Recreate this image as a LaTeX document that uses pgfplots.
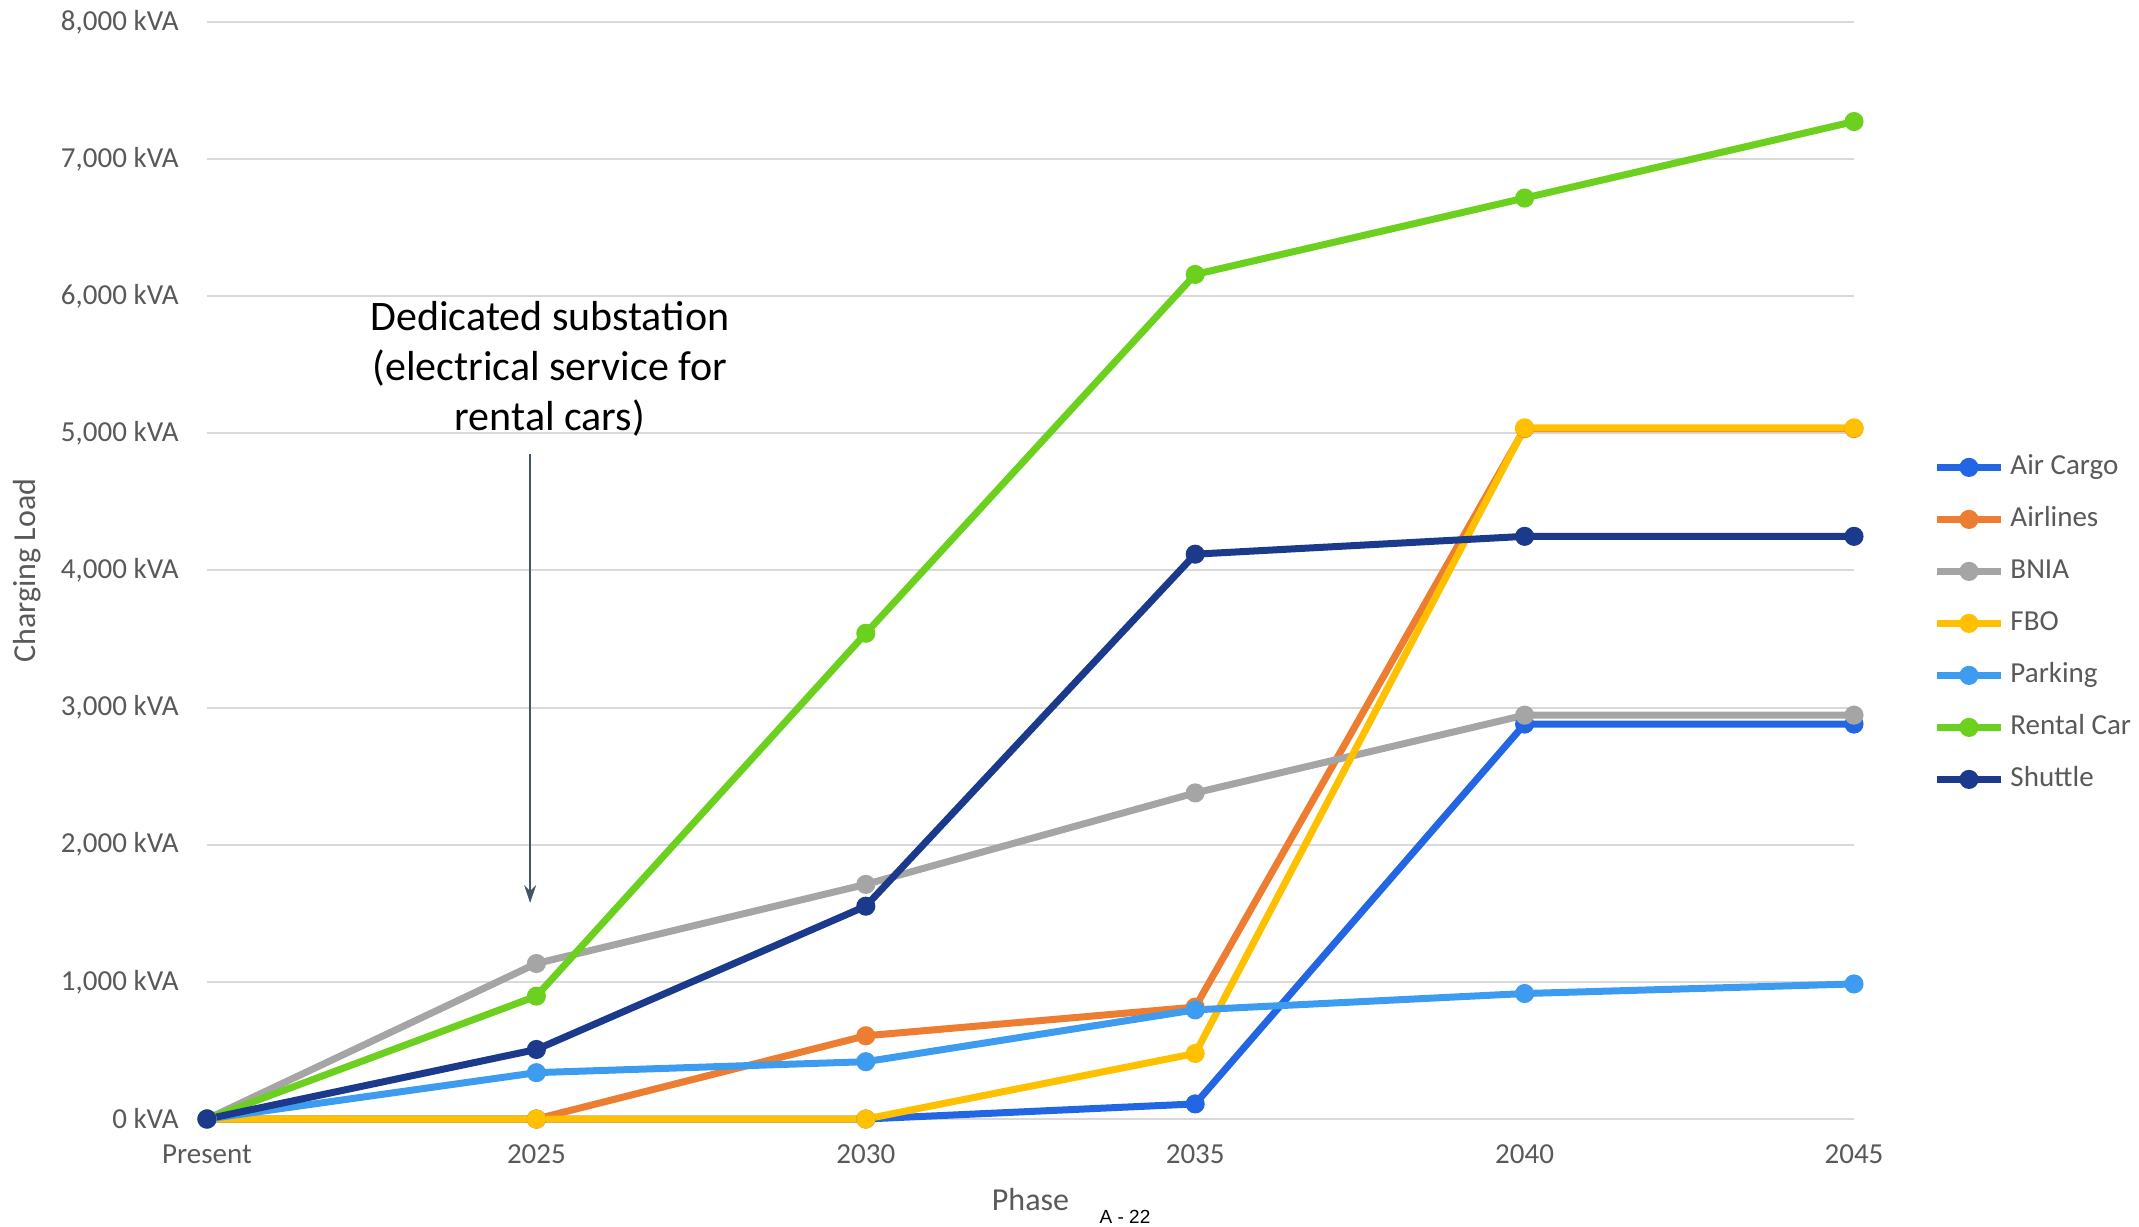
\documentclass[border=0pt]{standalone}
\usepackage{pgfplots}
\pgfplotsset{compat=1.18}
\usepackage{fontspec}
\setmainfont{Carlito}
\newfontfamily\arialfont{Liberation Sans}
\usetikzlibrary{arrows.meta}

\definecolor{aircargo}{HTML}{2266E3}
\definecolor{airlines}{HTML}{ED7D31}
\definecolor{bnia}{HTML}{A5A5A5}
\definecolor{fbo}{HTML}{FFC000}
\definecolor{parking}{HTML}{3E9CF0}
\definecolor{rentalcar}{HTML}{6CD01E}
\definecolor{shuttle}{HTML}{1B3A8C}
\definecolor{labelgray}{HTML}{595959}
\definecolor{gridgray}{HTML}{D9D9D9}
\definecolor{arrowgray}{HTML}{44546A}

\begin{document}
\begin{tikzpicture}
\path[use as bounding box] (-103.5pt,-53.5pt) rectangle (966pt,559.5pt);
\begin{axis}[
    scale only axis,
    width=823.5pt,
    height=548.5pt,
    xmin=0, xmax=5,
    ymin=0, ymax=8000,
    xtick={0,1,2,3,4,5},
    xticklabels={Present,2025,2030,2035,2040,2045},
    ytick={0,1000,...,8000},
    yticklabel={\pgfmathprintnumber{\tick} kVA},
    /pgf/number format/.cd, fixed, 1000 sep={,}, assume math mode=true,
    /pgfplots/.cd,
    scaled y ticks=false,
    major tick length=0pt,
    axis line style={draw=none},
    ymajorgrids,
    grid style={gridgray, line width=1pt},
    tick label style={font=\fontsize{14.5}{17}\selectfont, text=labelgray},
    xticklabel style={anchor=center, yshift=-17.5pt},
    yticklabel style={anchor=east, inner sep=0pt, xshift=-14pt},
    xlabel={Phase},
    ylabel={Charging Load},
    label style={font=\fontsize{16}{19}\selectfont, text=labelgray},
    xlabel style={at={(rel axis cs:0.5,0)}, anchor=center, yshift=-40.5pt},
    ylabel style={at={(rel axis cs:0,0.5)}, anchor=center, yshift=90pt},
    every axis plot/.append style={line width=3.5pt, mark=*, mark size=3pt},
    legend cell align=left,
    legend image code/.code={\draw[#1, mark repeat=2, mark phase=2] plot coordinates {(0pt,0pt) (16pt,0pt) (32pt,0pt)};},
    legend style={at={(1.0480,0.6062)}, anchor=north west, draw=none, fill=none,
        inner sep=0pt, font=\fontsize{14.5}{17}\selectfont, text=labelgray,
        row sep=13pt, column sep=3pt,
        nodes={inner sep=0pt, text height=10pt, text depth=3pt}},
    clip=false,
]
% Air Cargo
\addplot[aircargo] coordinates {(0,0) (1,0) (2,0) (3,110) (4,2880) (5,2880)};
\addlegendentry{Air Cargo}
% Airlines
\addplot[airlines] coordinates {(0,0) (1,0) (2,607) (3,816) (4,5035) (5,5035)};
\addlegendentry{Airlines}
% BNIA
\addplot[bnia] coordinates {(0,0) (1,1134) (2,1711) (3,2378) (4,2945) (5,2945)};
\addlegendentry{BNIA}
% FBO
\addplot[fbo] coordinates {(0,0) (1,0) (2,0) (3,478) (4,5040) (5,5040)};
\addlegendentry{FBO}
% Parking
\addplot[parking] coordinates {(0,0) (1,338) (2,418) (3,796) (4,915) (5,985)};
\addlegendentry{Parking}
% Rental Car
\addplot[rentalcar] coordinates {(0,0) (1,896) (2,3542) (3,6159) (4,6716) (5,7274)};
\addlegendentry{Rental Car}
% Shuttle
\addplot[shuttle] coordinates {(0,0) (1,507) (2,1552) (3,4119) (4,4249) (5,4249)};
\addlegendentry{Shuttle}

\node[align=center, font=\fontsize{21}{25}\selectfont, text=black]
    at (axis cs:1.041,5473) {Dedicated substation\\(electrical service for\\rental cars)};
\draw[-{Stealth[length=9pt,width=6pt]}, arrowgray, line width=0.8pt]
    (axis cs:0.981,4850) -- (axis cs:0.981,1575);
\end{axis}
\node[font=\arialfont\fontsize{9.5}{11}\selectfont] at (459pt,-49pt) {A - 22};
\end{tikzpicture}
\end{document}
